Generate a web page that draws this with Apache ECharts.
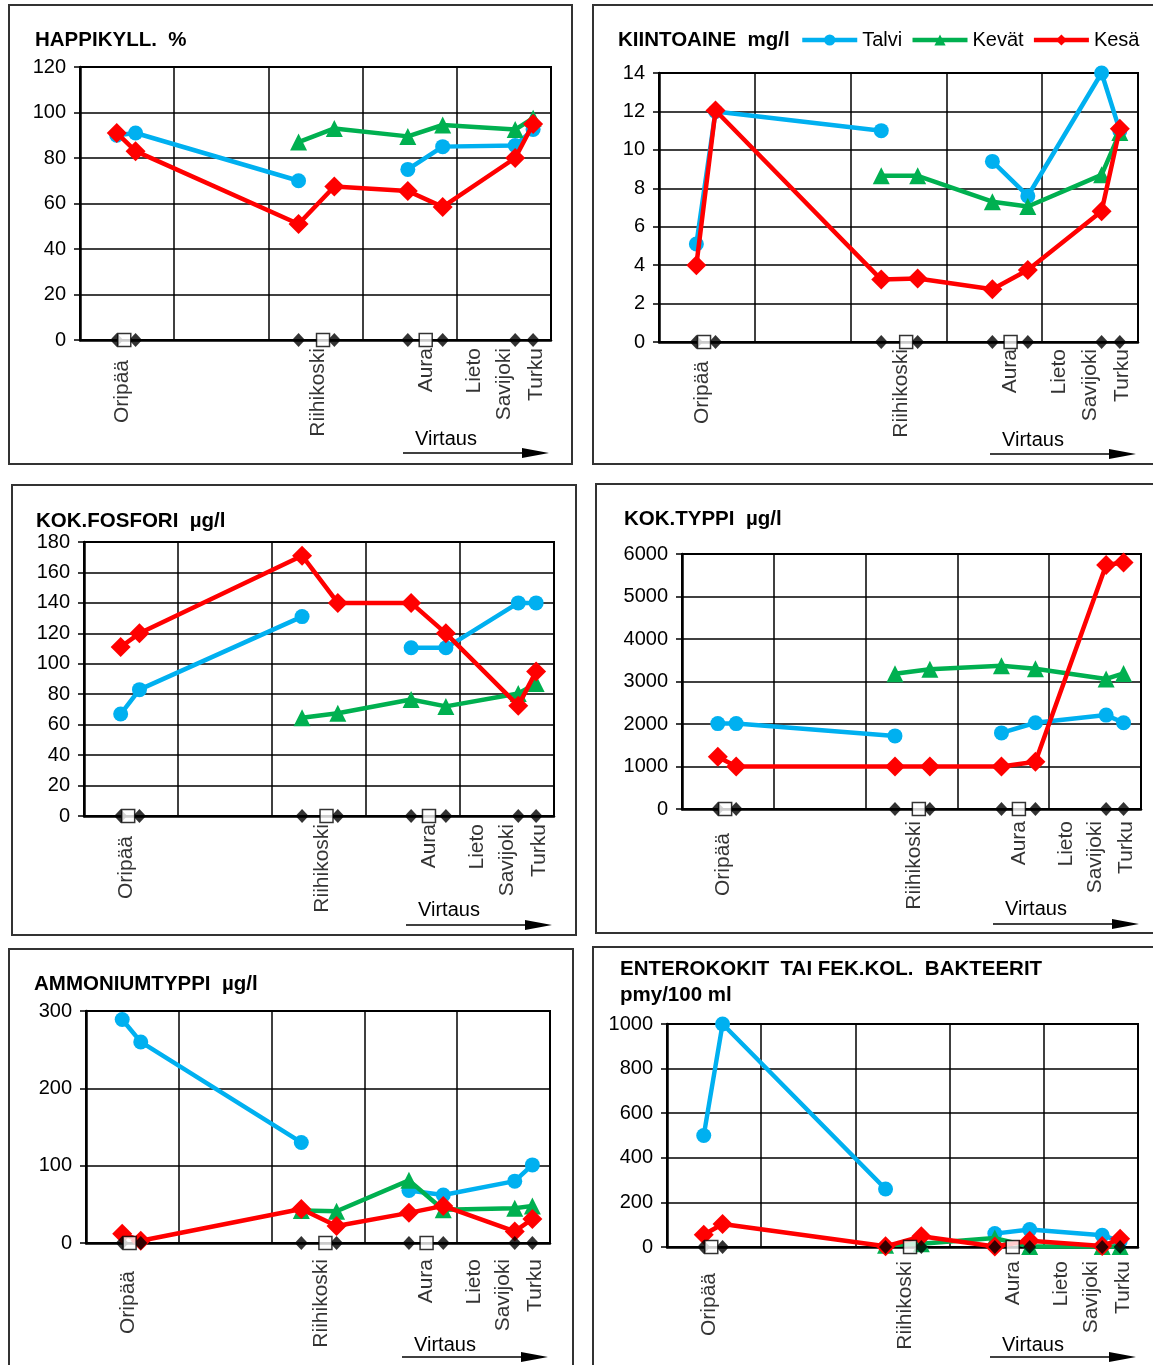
<!DOCTYPE html>
<html><head><meta charset="utf-8">
<script src="https://cdn.jsdelivr.net/npm/echarts@6/dist/echarts.min.js"></script>
<style>html,body{margin:0;padding:0;background:#fff}#c{width:1153px;height:1365px}</style>
</head><body><div id="c"></div>
<script>
// ---- data ----
const seasonNames = ['Talvi', 'Kevät', 'Kesä'];
// sampling stations along the river (x position in grid-column units)
const stationX = [0.39, 0.59, 2.32, 2.70, 3.48, 3.85, 4.62, 4.81];
// place markers (white squares)
const placeX = [0.47, 2.58, 3.67];
const placeLabels = ['Oripää', 'Riihikoski', 'Aura', 'Lieto', 'Savijoki', 'Turku'];
const placeLabelX = [0.45, 2.53, 3.67, 4.18, 4.50, 4.84];

const happiTalvi = [90, 91, 70, null, 75, 85, 85.5, 92.5];
const happiKevat = [null, null, 87, 93, 89.5, 94.5, 92.5, 97.5];
const happiKesa  = [91, 83, 51, 67.5, 65.5, 58.5, 80, 95];

const kiintoTalvi = [5.1, 12, 11, null, 9.4, 7.6, 14, 11];
const kiintoKevat = [null, null, 8.65, 8.65, 7.3, 7.05, 8.7, 10.9];
const kiintoKesa  = [4, 12.05, 3.25, 3.3, 2.75, 3.75, 6.8, 11.1];

const fosforiTalvi = [67, 83, 131, null, 110.5, 110.5, 140, 140];
const fosforiKevat = [null, null, 64.5, 67.5, 76.5, 72, 80.5, 87];
const fosforiKesa  = [111, 120, 171, 140, 140, 120, 72.5, 95];

const typpiTalvi = [2010, 2010, 1720, null, 1790, 2030, 2210, 2030];
const typpiKevat = [null, null, 3180, 3290, 3370, 3300, 3060, 3190];
const typpiKesa  = [1230, 1000, 1000, 1000, 1000, 1110, 5740, 5800];

const ammoTalvi = [289, 260, 130, null, 68, 62, 80, 101];
const ammoKevat = [null, null, 42, 41, 81, 43, 45, 48];
const ammoKesa  = [12, 3, 44, 22, 39, 48, 15, 31];

const enteroTalvi = [500, 1000, 260, null, 60, 78, 53, 25];
const enteroKevat = [null, null, 8, 15, 40, 2, 2, 2];
const enteroKesa  = [55, 103, 3, 48, 2, 28, 4, 37];

// ---- layout / style ----
const FONT = "'Liberation Sans', Arial, sans-serif";
const COLORS = ['#00B0F0', '#00B050', '#FF0000'];
const SYMBOLS = ['circle', 'triangle', 'diamond'];
const SYMSIZE = [15, 17, 20];

const panels = [
  {title: 'HAPPIKYLL.  %', yMax: 120, yInt: 20, values: [happiTalvi, happiKevat, happiKesa],
   grid: {left: 80, top: 67, width: 471, height: 273}, box: [9, 5, 563, 459], tpos: [35, 27], gap: 8, vt: [99, 113]},
  {title: 'KIINTOAINE  mg/l', yMax: 14, yInt: 2, values: [kiintoTalvi, kiintoKevat, kiintoKesa],
   grid: {left: 659, top: 73, width: 479, height: 269}, box: [593, 5, 580, 459], tpos: [618, 27], gap: 7, vt: [98, 112]},
  {title: 'KOK.FOSFORI  µg/l', yMax: 180, yInt: 20, values: [fosforiTalvi, fosforiKevat, fosforiKesa],
   grid: {left: 84, top: 542, width: 470, height: 274}, box: [12, 485, 564, 450], tpos: [36, 508], gap: 8, vt: [94, 109]},
  {title: 'KOK.TYPPI  µg/l', yMax: 6000, yInt: 1000, values: [typpiTalvi, typpiKevat, typpiKesa],
   grid: {left: 682, top: 554, width: 459, height: 255}, box: [596, 484, 580, 449], tpos: [624, 506], gap: 12, vt: [100, 115]},
  {title: 'AMMONIUMTYPPI  µg/l', yMax: 300, yInt: 100, values: [ammoTalvi, ammoKevat, ammoKesa],
   grid: {left: 86, top: 1011, width: 464, height: 232}, box: [9, 949, 564, 500], tpos: [34, 971], gap: 16, vt: [102, 114]},
  {title: 'ENTEROKOKIT  TAI FEK.KOL.  BAKTEERIT\npmy/100 ml', yMax: 1000, yInt: 200, values: [enteroTalvi, enteroKevat, enteroKesa],
   grid: {left: 667, top: 1024, width: 471, height: 223}, box: [593, 947, 580, 500], tpos: [620, 956], gap: 14, vt: [98, 110]}
];

const grids = [], xAxes = [], yAxes = [], series = [], titles = [], graphics = [];

panels.forEach((p, i) => {
  grids.push(Object.assign({show: true, borderColor: '#000', borderWidth: 2, containLabel: false}, p.grid));
  xAxes.push({
    type: 'value', gridIndex: i, min: 0, max: 5, interval: 1,
    axisLine: {lineStyle: {color: '#000', width: 2.5}},
    axisTick: {show: false}, axisLabel: {show: false},
    splitLine: {show: true, lineStyle: {color: '#000', width: 1.5}}
  });
  yAxes.push({
    type: 'value', gridIndex: i, min: 0, max: p.yMax, interval: p.yInt,
    axisLine: {show: true, lineStyle: {color: '#000', width: 2.5}},
    axisTick: {show: true, length: 6, lineStyle: {color: '#000', width: 1.5}},
    axisLabel: {fontSize: 20, color: '#000', fontFamily: FONT, margin: 14, formatter: v => String(v)},
    splitLine: {show: true, lineStyle: {color: '#000', width: 1.5}}
  });
  p.values.forEach((vals, s) => {
    series.push({
      name: seasonNames[s], type: 'line', xAxisIndex: i, yAxisIndex: i,
      data: stationX.map((x, k) => [x, vals[k] == null ? '-' : vals[k]]),
      connectNulls: false, symbol: SYMBOLS[s], symbolSize: SYMSIZE[s], showSymbol: true,
      itemStyle: {color: COLORS[s]}, lineStyle: {color: COLORS[s], width: 4.5},
      z: 2 + s, animation: false
    });
  });
  series.push({
    type: 'scatter', xAxisIndex: i, yAxisIndex: i, silent: true, z: 8,
    data: stationX.map(x => [x, 0]), symbol: 'diamond', symbolSize: [13, 14],
    itemStyle: {color: '#000'}, animation: false
  });
  series.push({
    type: 'scatter', xAxisIndex: i, yAxisIndex: i, silent: true, z: 9,
    data: placeX.map(x => [x, 0]), symbol: 'rect', symbolSize: 13,
    itemStyle: {color: '#fff', borderColor: '#000', borderWidth: 1.5}, animation: false
  });
  series.push({
    type: 'scatter', xAxisIndex: i, yAxisIndex: i, silent: true, z: 9,
    symbolSize: 0, animation: false,
    data: placeLabelX.map((x, k) => ({
      value: [x, 0], name: placeLabels[k],
      label: {distance: p.gap + (k === 0 ? 12 : 0)}
    })),
    label: {
      show: true, position: 'bottom', rotate: 90, align: 'right', verticalAlign: 'middle',
      formatter: '{b}', fontSize: 21, color: '#000', fontFamily: FONT
    }
  });
  titles.push({
    text: p.title, left: p.tpos[0], top: p.tpos[1], padding: 0,
    textStyle: {fontSize: 20.5, fontWeight: 'bold', color: '#000', fontFamily: FONT, lineHeight: 26}
  });
  const gr = p.grid.left + p.grid.width, gb = p.grid.top + p.grid.height;
  graphics.push({type: 'rect', silent: true, z: 0,
    shape: {x: p.box[0], y: p.box[1], width: p.box[2], height: p.box[3]},
    style: {fill: 'none', stroke: '#333', lineWidth: 2}});
  graphics.push({type: 'text', silent: true, z: 10,
    style: {text: 'Virtaus', x: gr - 136, y: gb + p.vt[0], fontSize: 20, fontFamily: FONT,
      fill: '#000', verticalAlign: 'middle', align: 'left'}});
  graphics.push({type: 'line', silent: true, z: 10,
    shape: {x1: gr - 148, y1: gb + p.vt[1], x2: gr - 20, y2: gb + p.vt[1]},
    style: {stroke: '#000', lineWidth: 1.5}});
  graphics.push({type: 'polygon', silent: true, z: 10,
    shape: {points: [[gr - 29, gb + p.vt[1] - 5], [gr - 2, gb + p.vt[1]], [gr - 29, gb + p.vt[1] + 5]]},
    style: {fill: '#000'}});
});

const chart = echarts.init(document.getElementById('c'), null, {renderer: 'canvas'});
chart.setOption({
  backgroundColor: '#fff',
  animation: false,
  title: titles,
  legend: {
    data: seasonNames, left: 800, top: 30, padding: 0,
    itemWidth: 55, itemHeight: 14, itemGap: 8,
    lineStyle: {width: 4.5},
    textStyle: {fontSize: 20, color: '#000', fontFamily: FONT}
  },
  grid: grids, xAxis: xAxes, yAxis: yAxes, series: series, graphic: graphics
});
</script></body></html>
